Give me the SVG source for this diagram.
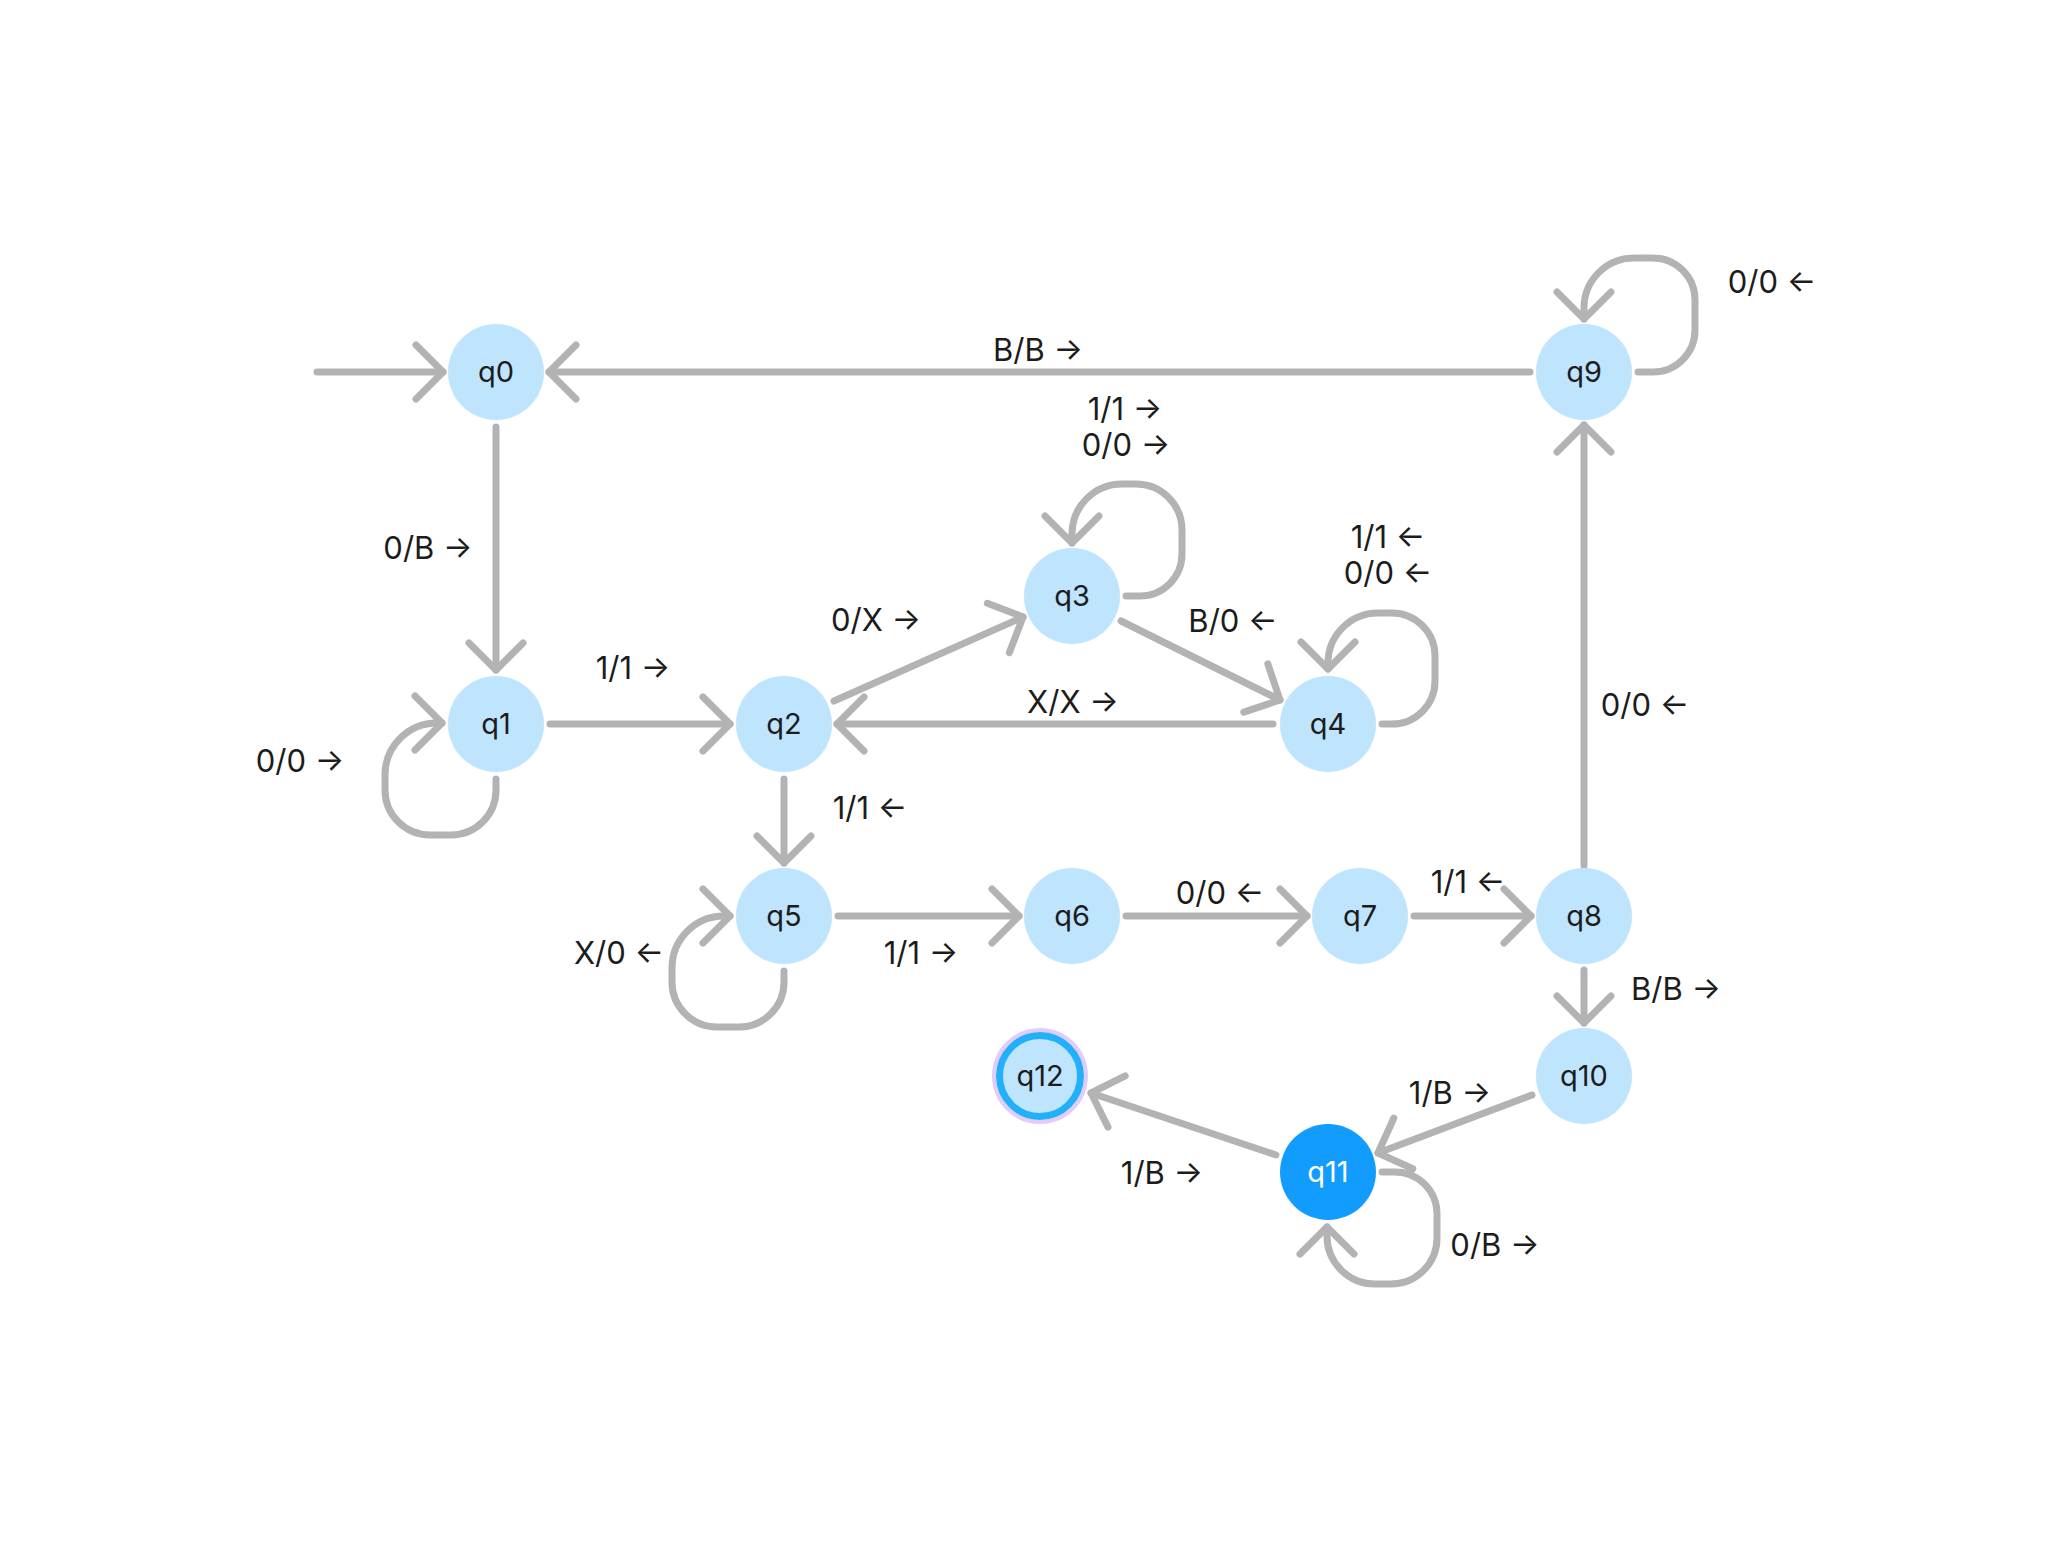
<svg xmlns="http://www.w3.org/2000/svg" width="2070" height="1544" viewBox="0 0 2070 1544">
<style>
.n{fill:#bfe4fd}
.nt{font-family:Inter,"Liberation Sans",sans-serif;font-size:29px;fill:#1c1c1c;text-anchor:middle}
.lb{font-family:Inter,"Liberation Sans",sans-serif;font-size:31px;fill:#1c1c1c;text-anchor:middle}
.e{fill:none;stroke:#b3b3b3;stroke-width:7;stroke-linecap:round;stroke-linejoin:round;marker-end:url(#ah)}
</style>
<defs>
<marker id="ah" markerUnits="userSpaceOnUse" viewBox="-35 -35 40 70" refX="0" refY="0" markerWidth="40" markerHeight="70" orient="auto" overflow="visible">
<path d="M -27 -27 L 0 0 L -27 27" fill="none" stroke="#b3b3b3" stroke-width="7" stroke-linecap="round" stroke-linejoin="round"/>
</marker>
</defs>
<rect width="2070" height="1544" fill="#ffffff"/>
<g id="edges">
<path class="e" d="M 317 372 H 443"/>
<path class="e" d="M 1530 372 H 549"/>
<path class="e" d="M 496 427 V 670"/>
<path class="e" d="M 496 779 V 790 A 45 45 0 0 1 451 835 H 430 A 45 45 0 0 1 385 790 V 775 A 52 52 0 0 1 437 723 H 442"/>
<path class="e" d="M 550 724 H 730"/>
<path class="e" d="M 834 701 L 1023 617"/>
<path class="e" d="M 1126 596 H 1140 A 42 42 0 0 0 1182 554 V 530 A 46 46 0 0 0 1136 484 H 1122 A 50 50 0 0 0 1072 534 V 543"/>
<path class="e" d="M 1121 621 L 1280 700"/>
<path class="e" d="M 1273 724 H 837"/>
<path class="e" d="M 1382 724 H 1392 A 43 43 0 0 0 1435 681 V 656 A 43 43 0 0 0 1392 613 H 1378 A 50 50 0 0 0 1328 663 V 669"/>
<path class="e" d="M 784 779 V 863"/>
<path class="e" d="M 784 971 V 982 A 45 45 0 0 1 739 1027 H 717 A 45 45 0 0 1 672 982 V 968 A 52 52 0 0 1 724 916 H 730"/>
<path class="e" d="M 838 916 H 1019"/>
<path class="e" d="M 1126 916 H 1307"/>
<path class="e" d="M 1414 916 H 1531"/>
<path class="e" d="M 1584 866 V 425"/>
<path class="e" d="M 1638 372 H 1653 A 42 42 0 0 0 1695 330 V 300 A 42 42 0 0 0 1653 258 H 1634 A 50 50 0 0 0 1584 308 V 319"/>
<path class="e" d="M 1584 970 V 1023"/>
<path class="e" d="M 1532 1095 L 1378 1153"/>
<path class="e" d="M 1276 1155 L 1091 1093"/>
<path class="e" d="M 1382 1172 H 1395 A 42 42 0 0 1 1437 1214 V 1238 A 46 46 0 0 1 1391 1284 H 1375 A 48 48 0 0 1 1327 1236 V 1227"/>
</g>
<g id="labels">
<text class="lb" x="428" y="559">0/B →</text>
<text class="lb" x="1038" y="361">B/B →</text>
<text class="lb" x="1125" y="420">1/1 →</text>
<text class="lb" x="1126" y="456">0/0 →</text>
<text class="lb" x="1388" y="548">1/1 ←</text>
<text class="lb" x="1388" y="584">0/0 ←</text>
<text class="lb" x="1233" y="632">B/0 ←</text>
<text class="lb" x="876" y="631">0/X →</text>
<text class="lb" x="633" y="679">1/1 →</text>
<text class="lb" x="300" y="772">0/0 →</text>
<text class="lb" x="1073" y="713">X/X →</text>
<text class="lb" x="870" y="819">1/1 ←</text>
<text class="lb" x="619" y="964">X/0 ←</text>
<text class="lb" x="921" y="964">1/1 →</text>
<text class="lb" x="1220" y="904">0/0 ←</text>
<text class="lb" x="1468" y="893">1/1 ←</text>
<text class="lb" x="1645" y="716">0/0 ←</text>
<text class="lb" x="1772" y="293">0/0 ←</text>
<text class="lb" x="1676" y="1000">B/B →</text>
<text class="lb" x="1450" y="1104">1/B →</text>
<text class="lb" x="1162" y="1184">1/B →</text>
<text class="lb" x="1495" y="1256">0/B →</text>
</g>
<g id="q0"><circle class="n" cx="496" cy="372" r="48"/><text class="nt" x="496" y="382">q0</text></g>
<g id="q1"><circle class="n" cx="496" cy="724" r="48"/><text class="nt" x="496" y="734">q1</text></g>
<g id="q2"><circle class="n" cx="784" cy="724" r="48"/><text class="nt" x="784" y="734">q2</text></g>
<g id="q3"><circle class="n" cx="1072" cy="596" r="48"/><text class="nt" x="1072" y="606">q3</text></g>
<g id="q4"><circle class="n" cx="1328" cy="724" r="48"/><text class="nt" x="1328" y="734">q4</text></g>
<g id="q5"><circle class="n" cx="784" cy="916" r="48"/><text class="nt" x="784" y="926">q5</text></g>
<g id="q6"><circle class="n" cx="1072" cy="916" r="48"/><text class="nt" x="1072" y="926">q6</text></g>
<g id="q7"><circle class="n" cx="1360" cy="916" r="48"/><text class="nt" x="1360" y="926">q7</text></g>
<g id="q8"><circle class="n" cx="1584" cy="916" r="48"/><text class="nt" x="1584" y="926">q8</text></g>
<g id="q9"><circle class="n" cx="1584" cy="372" r="48"/><text class="nt" x="1584" y="382">q9</text></g>
<g id="q10"><circle class="n" cx="1584" cy="1076" r="48"/><text class="nt" x="1584" y="1086">q10</text></g>
<g id="q11"><circle cx="1328" cy="1172" r="48" fill="#129cfe"/><text class="nt" x="1328" y="1182" style="fill:#ffffff">q11</text></g>
<g id="q12"><circle cx="1040" cy="1076" r="46" fill="none" stroke="#e3ccf9" stroke-width="4"/><circle class="n" cx="1040" cy="1076" r="40.5" stroke="#22b0fb" stroke-width="7"/><text class="nt" x="1040" y="1086">q12</text></g>
</svg>
